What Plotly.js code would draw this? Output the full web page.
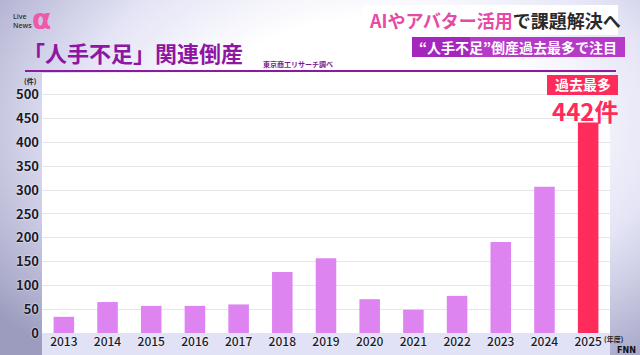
<!DOCTYPE html>
<html><head><meta charset="utf-8">
<script src="https://cdn.plot.ly/plotly-3.0.1.min.js"></script>
<style>
html,body{margin:0;padding:0;width:640px;height:355px;overflow:hidden;}
body{background:radial-gradient(ellipse 75% 85% at 58% 35%, #ffffff 35%, #e4e4f6 62%, #b4b4d2 88%, #9c9cbe 100%);}
#chart{width:640px;height:355px;}
</style></head>
<body><div id="chart"></div>
<script>
var years = ['2013','2014','2015','2016','2017','2018','2019','2020','2021','2022','2023','2024','2025'];
var counts = [34, 65, 57, 57, 60, 128, 157, 71, 49, 78, 191, 307, 442];
var yTicks = [0, 50, 100, 150, 200, 250, 300, 350, 400, 450, 500];
var title = '「人手不足」関連倒産';
var source = '東京商工リサーチ調べ';
var headPink = 'AIやアバター活用';
var headDark = 'で課題解決へ';
var subHead = '“人手不足”倒産過去最多で注目';
var badge = '過去最多';
var peakLabel = '442件';

var L = 42, R = 30, T = 73, B = 22, WW = 640, HH = 355;
var PW = WW - L - R, PH = HH - T - B;
function X(px){ return (px - L) / PW; }
function Y(py){ return (HH - B - py) / PH; }

var jp = '"Noto Sans CJK JP", "Noto Sans", sans-serif';
var barColors = counts.map(function(v, i){ return i === counts.length - 1 ? '#ff2b5b' : '#de84f1'; });

var trace = {
  type: 'bar', x: years, y: counts,
  marker: {color: barColors},
  hoverinfo: 'x+y'
};

var layout = {
  width: WW, height: HH,
  margin: {l: L, r: R, t: T, b: B, pad: 0},
  paper_bgcolor: 'rgba(0,0,0,0)',
  plot_bgcolor: '#ffffff',
  showlegend: false,
  bargap: 0.53,
  xaxis: {
    type: 'category', range: [-0.5, 12.5], fixedrange: true,
    showgrid: false, zeroline: false, showline: false, ticks: '',
    tickfont: {family: jp, size: 12, color: '#1a1a2a', weight: 500, shadow: '0 0 2px #ffffff'},
    ticklabelstandoff: 0
  },
  yaxis: {
    range: [0, 546], fixedrange: true,
    tickvals: yTicks, ticktext: yTicks.map(String),
    showgrid: true, gridcolor: '#e6e6ea', gridwidth: 1,
    zeroline: false, showline: false, ticks: '',
    tickfont: {family: jp, size: 13, color: '#1a1a2a', weight: 600, shadow: '0 0 2px #ffffff'},
    ticklabelstandoff: 2
  },
  shapes: [
    {type: 'rect', xref: 'paper', yref: 'paper', x0: 0, x1: 1, y0: Y(355), y1: 0,
     fillcolor: '#e2e2f6', line: {width: 0}, layer: 'below'},
    {type: 'line', xref: 'paper', yref: 'paper', x0: X(25), x1: X(616), y0: Y(71), y1: Y(71),
     line: {color: '#8c1aa0', width: 2}},
    {type: 'rect', xref: 'paper', yref: 'paper', x0: X(363), x1: X(618), y0: Y(35), y1: Y(5),
     fillcolor: '#ffffff', line: {width: 0}},
    {type: 'rect', xref: 'paper', yref: 'paper', x0: X(412), x1: X(625), y0: Y(57), y1: Y(37),
     fillcolor: '#b63ac8', line: {width: 0}},
    {type: 'rect', xref: 'paper', yref: 'paper', x0: X(412), x1: X(470), y0: Y(57), y1: Y(37),
     fillcolor: '#a626bd', line: {width: 0}},
    {type: 'rect', xref: 'paper', yref: 'paper', x0: X(547), x1: X(618), y0: Y(95), y1: Y(75),
     fillcolor: '#ff2b5b', line: {width: 0}}
  ],
  annotations: [
    {xref: 'paper', yref: 'paper', x: X(22), y: Y(52), xanchor: 'left', yanchor: 'middle',
     text: title, showarrow: false, borderpad: 0, font: {family: jp, size: 22, color: '#8e16a2', weight: 700}},
    {xref: 'paper', yref: 'paper', x: X(261), y: Y(64), xanchor: 'left', yanchor: 'middle',
     text: source, showarrow: false, font: {family: jp, size: 7, color: '#7a1a90', weight: 600}},
    {xref: 'paper', yref: 'paper', x: X(367), y: Y(20), xanchor: 'left', yanchor: 'middle',
     text: '<span style="color:#e64aa8">' + headPink + '</span>' + headDark, showarrow: false,
     font: {family: jp, size: 18, color: '#2a2a2a', weight: 700}},
    {xref: 'paper', yref: 'paper', x: X(518), y: Y(47), xanchor: 'center', yanchor: 'middle',
     text: subHead, showarrow: false, font: {family: jp, size: 14, color: '#ffffff', weight: 700}},
    {xref: 'paper', yref: 'paper', x: X(582.5), y: Y(84.5), xanchor: 'center', yanchor: 'middle',
     text: badge, showarrow: false, borderpad: 0, font: {family: jp, size: 14, color: '#ffffff', weight: 700}},
    {xref: 'paper', yref: 'paper', x: X(585), y: Y(110.5), xanchor: 'center', yanchor: 'middle',
     text: peakLabel, showarrow: false, borderpad: 0, font: {family: jp, size: 24, color: '#ff2b5b', weight: 700}},
    {xref: 'paper', yref: 'paper', x: X(30), y: Y(81), xanchor: 'center', yanchor: 'middle',
     text: '(件)', showarrow: false, font: {family: jp, size: 7, color: '#222', weight: 600}},
    {xref: 'paper', yref: 'paper', x: X(603), y: Y(339), xanchor: 'left', yanchor: 'middle',
     text: '(年度)', showarrow: false, borderpad: 0, font: {family: jp, size: 7, color: '#222', weight: 600}},
    {xref: 'paper', yref: 'paper', x: X(11), y: Y(21), xanchor: 'left', yanchor: 'middle',
     text: 'Live<br>News', showarrow: false, align: 'left',
     font: {family: '"Open Sans", sans-serif', size: 7, color: '#333', weight: 600}},
    {xref: 'paper', yref: 'paper', x: X(31), y: Y(19.5), xanchor: 'left', yanchor: 'middle',
     text: 'α', showarrow: false, borderpad: 0,
     font: {family: '"DejaVu Sans", sans-serif', size: 28, color: '#ee5aaa', weight: 700}},
    {xref: 'paper', yref: 'paper', x: X(616), y: Y(350), xanchor: 'left', yanchor: 'middle',
     text: 'FNN', showarrow: false, borderpad: 0,
     font: {family: '"DejaVu Sans", sans-serif', size: 8, color: '#111', weight: 700}}
  ]
};

Plotly.newPlot('chart', [trace], layout, {displayModeBar: false, staticPlot: true});
</script>
</body></html>
